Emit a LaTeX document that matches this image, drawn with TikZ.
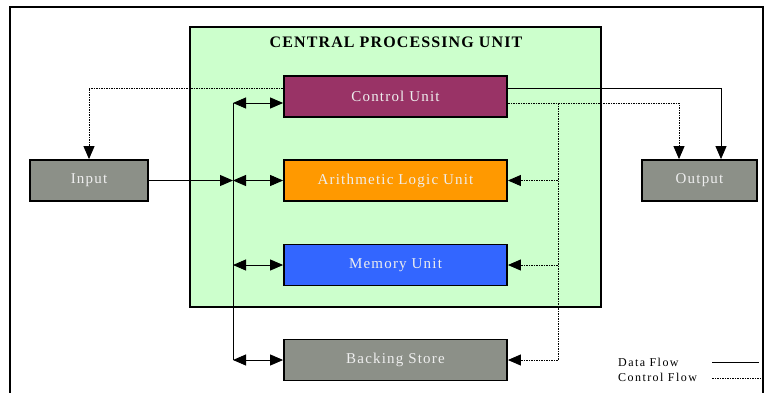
\documentclass[tikz,border=0pt]{standalone}
\usepackage{fontspec}
\setmainfont{Liberation Serif}
\usetikzlibrary{arrows.meta,positioning}
\definecolor{cpugreen}{HTML}{CCFFCC}
\definecolor{cumaroon}{HTML}{993366}
\definecolor{aluorange}{HTML}{FF9900}
\definecolor{memblue}{HTML}{3366FF}
\definecolor{iogray}{HTML}{8C9088}
\definecolor{lbltext}{HTML}{EEEEEE}

\begin{document}
\begin{tikzpicture}[x=1pt, y=1pt, >={Triangle[length=13pt,width=11pt]},
	unit/.style={draw=black, line width=1.8pt, minimum width=223pt, minimum height=41pt, inner sep=0pt, text=lbltext, font=\fontsize{15}{17}\selectfont\addfontfeature{LetterSpace=8}},
	iobox/.style={unit, fill=iogray, minimum width=118pt},
	legend/.style={anchor=west, inner sep=0pt, font=\fontsize{12}{14}\selectfont\addfontfeature{LetterSpace=12}},
	dataflow/.style={line width=0.9pt},
	ctrlflow/.style={line width=0.9pt, dash pattern=on 2pt off 1pt on 1pt off 1pt}]
	\useasboundingbox (0,0) rectangle (767,392);
	\draw [line width=2pt] (10,-5) -- (10,385) -- (763,385) -- (763,-5);

	\node (cpu) at (395.5,225) [draw, line width=2pt, fill=cpugreen, minimum width=411pt, minimum height=280pt] {};
	\node (cputitle) at (396,350) [font=\bfseries\fontsize{16}{18}\selectfont\addfontfeature{LetterSpace=7}] {CENTRAL PROCESSING UNIT};

	\node (cu) at (395.5,295.5) [unit, fill=cumaroon] {Control Unit};
	\node (alu) at (395.5,211.5) [unit, fill=aluorange] {Arithmetic Logic Unit};
	\node (mem) at (395.5,127) [unit, fill=memblue] {Memory Unit};
	\node (store) at (395.5,32) [unit, fill=iogray] {Backing Store};
	\node (input) at (89,211.5) [iobox] {Input};
	\node (output) at (699.5,211.5) [iobox, minimum width=115pt] {Output};

	% data bus
	\coordinate (bustop) at (233,289);
	\coordinate (busbot) at (233,32);
	\draw [dataflow] (bustop) -- (busbot);
	\draw [dataflow, <->] (bustop) -- (bustop -| cu.west);
	\draw [dataflow, <->] (bustop |- alu) -- (alu.west);
	\draw [dataflow, <->] (bustop |- mem) -- (mem.west);
	\draw [dataflow, <->] (busbot) -- (store.west);
	\draw [dataflow, ->] (input.east) -- (bustop |- input);
	\draw [dataflow, ->] ([yshift=8.5pt]cu.east) -| ([xshift=21.5pt]output.north);

	% control lines
	\coordinate (ctrltop) at (558,289);
	\coordinate (ctrlbot) at (558,32);
	\draw [ctrlflow, ->] ([yshift=8.5pt]cu.west) -| (input.north);
	\draw [ctrlflow, ->] ([yshift=-6.5pt]cu.east) -| ([xshift=-20.5pt]output.north);
	\draw [ctrlflow] (ctrltop) -- (ctrlbot);
	\draw [ctrlflow, ->] (ctrltop |- alu) -- (alu.east);
	\draw [ctrlflow, ->] (ctrltop |- mem) -- (mem.east);
	\draw [ctrlflow, ->] (ctrlbot) -- (store.east);

	% legend
	\node (datalbl) at (618,30) [legend] {Data Flow};
	\node (ctrllbl) at (618,15) [legend] {Control Flow};
	\coordinate (datal) at (712,30);
	\coordinate (datar) at (759,30);
	\coordinate (ctrll) at (712,14);
	\coordinate (ctrlr) at (763,14);
	\draw [dataflow] (datal) -- (datar);
	\draw [ctrlflow] (ctrll) -- (ctrlr);
\end{tikzpicture}
\end{document}
